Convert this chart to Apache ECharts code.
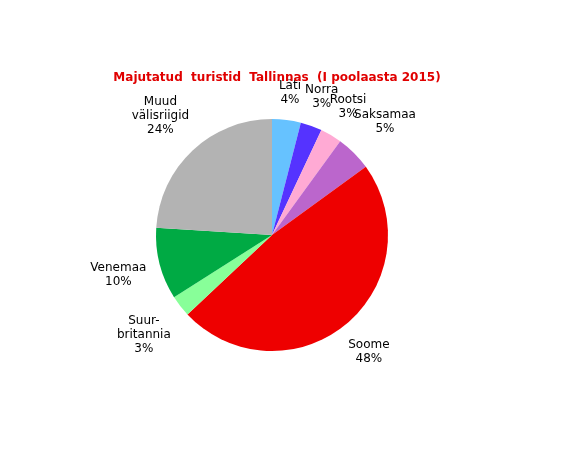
<!DOCTYPE html>
<html>
<head>
<meta charset="utf-8">
<script src="https://cdn.jsdelivr.net/npm/echarts@6/dist/echarts.min.js"></script>
<style>html,body{margin:0;padding:0;background:#fff}#chart{width:572px;height:460px}</style>
</head>
<body>
<div id="chart"></div>
<script>
var names = ['Läti', 'Norra', 'Rootsi', 'Saksamaa', 'Soome', 'Suur-\nbritannia', 'Venemaa', 'Muud\nvälisriigid'];
var values = [4, 3, 3, 5, 48, 3, 10, 24];
var colors = ['#66c2ff', '#5533ff', '#ffaad4', '#bb66cc', '#ee0000', '#88ff99', '#00aa44', '#b3b3b3'];

var cx = 272, cy = 235, R = 116;
var myChart = echarts.init(document.getElementById('chart'));

var data = names.map(function (n, i) {
    return { name: n, value: values[i], itemStyle: { color: colors[i] } };
});

// mid angle of each slice, measured clockwise from the top
var total = values.reduce(function (a, b) { return a + b; }, 0);
var mids = [], acc = 0;
values.forEach(function (v) {
    mids.push((acc + v / 2) / total * Math.PI * 2);
    acc += v;
});

myChart.setOption({
    animation: false,
    title: {
        text: 'Majutatud  turistid  Tallinnas  (I poolaasta 2015)',
        left: 272,
        textAlign: 'center',
        top: 67,
        textStyle: { color: '#e00000', fontFamily: 'DejaVu Sans', fontSize: 12, fontWeight: 'bold' }
    },
    series: [{
        type: 'pie',
        center: [cx, cy],
        radius: R,
        startAngle: 90,
        clockwise: true,
        data: data,
        label: {
            show: true,
            position: 'outside',
            formatter: function (p) { return p.name + '\n' + p.value + '%'; },
            color: '#000',
            fontFamily: 'DejaVu Sans',
            fontSize: 12,
            lineHeight: 14,
            align: 'center'
        },
        labelLine: { show: false },
        labelLayout: function (p) {
            var a = mids[p.dataIndex];
            var w = p.labelRect.width, h = p.labelRect.height;
            var r = R + 12 + 0.5 * w * Math.abs(Math.sin(a)) + 0.5 * h * Math.abs(Math.cos(a));
            return {
                x: cx + r * Math.sin(a),
                y: cy - r * Math.cos(a),
                align: 'center',
                verticalAlign: 'middle'
            };
        }
    }]
});
</script>
</body>
</html>
